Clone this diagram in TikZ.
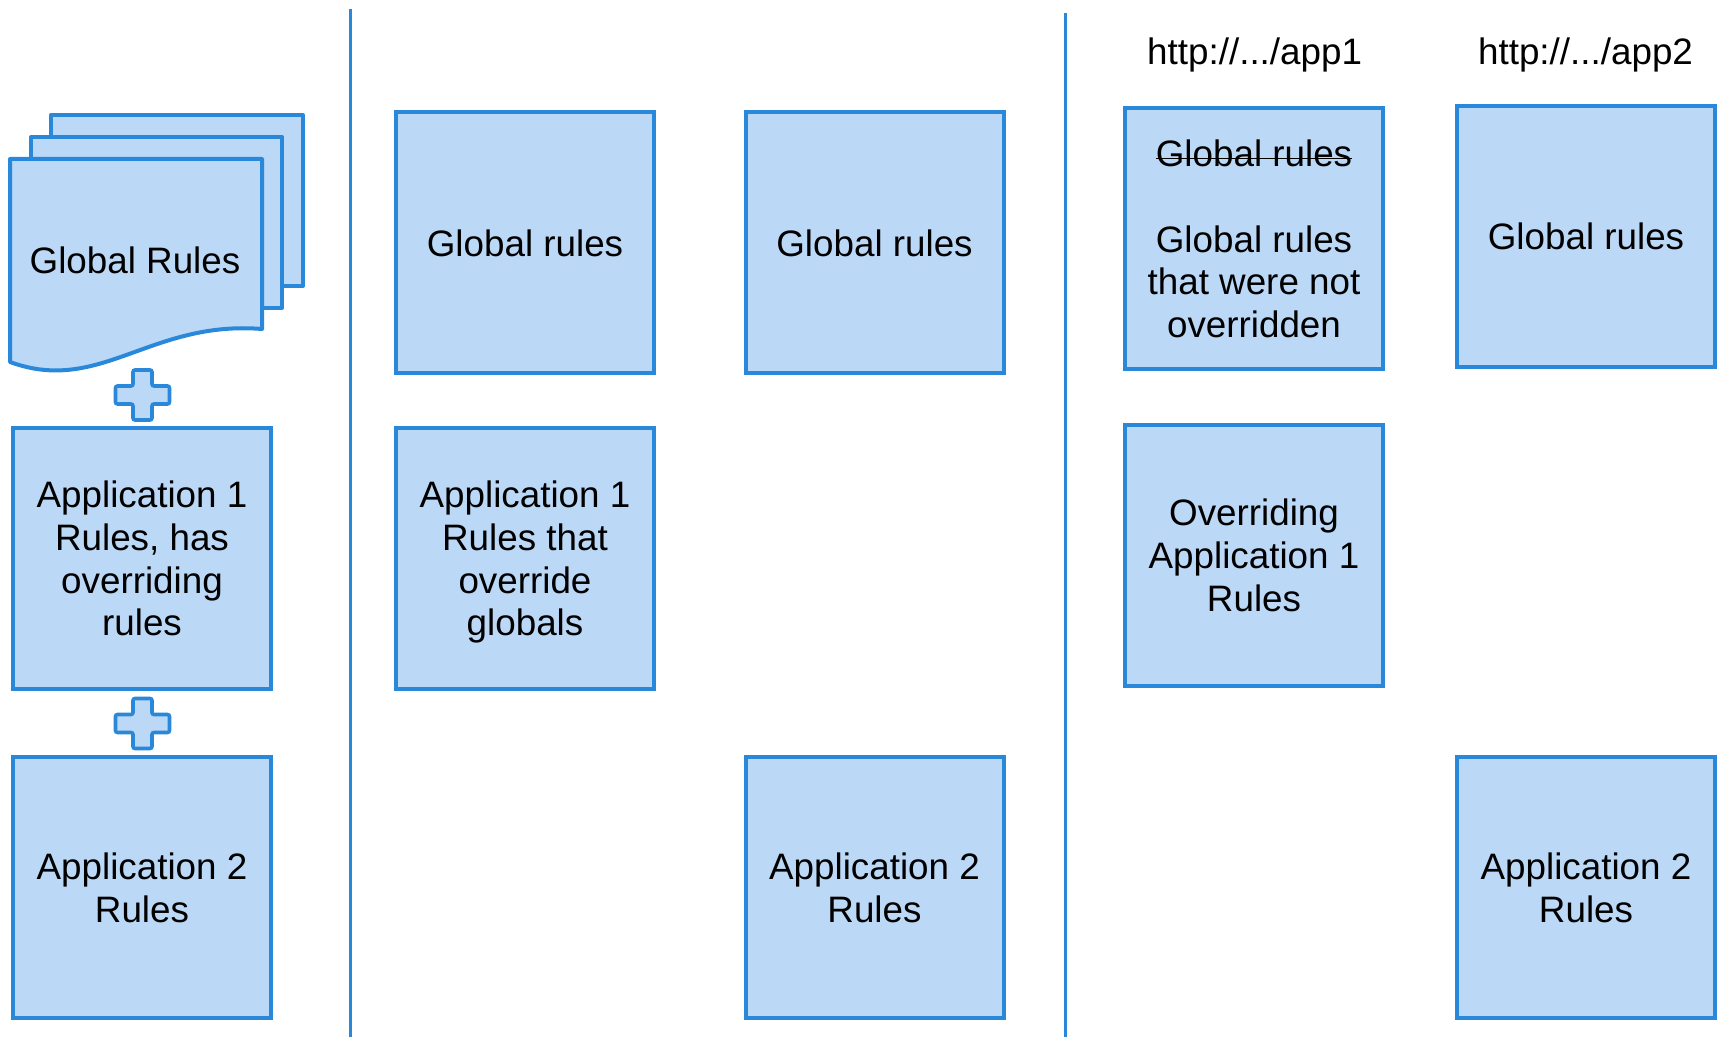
\documentclass[tikz,border=0pt]{standalone}
\usepackage{fontspec}
\setmainfont{Liberation Sans}
\definecolor{bblue}{RGB}{42,136,218}
\definecolor{bfill}{RGB}{187,216,246}
\newcommand\struck[1]{\leavevmode\begingroup\setbox0\hbox{#1}\rlap{\rule[0.2em]{\wd0}{0.9pt}}\box0\endgroup}
\tikzset{
  rulebox/.style={draw=bblue, fill=bfill, line width=2pt, minimum width=129pt, minimum height=130.5pt,
    inner sep=0pt, align=center, font=\fontsize{18.4}{21.35}\selectfont},
  plain/.style={inner sep=0pt, align=center, font=\fontsize{18.4}{21.35}\selectfont},
  page/.style={draw=bblue, fill=bfill, line width=2pt, line join=round},
  plusstyle/.style={draw=bblue, fill=bfill, line width=1.8pt, rounded corners=1pt},
  divider/.style={draw=bblue, line width=1.5pt}
}
\begin{document}
\begin{tikzpicture}[x=0.5pt, y=-0.5pt]
\useasboundingbox (0,0) rectangle (1718,1037);
% dividers
\coordinate (d1t) at (350.6,9);
\coordinate (d1b) at (350.6,1037);
\coordinate (d2t) at (1065,13);
\coordinate (d2b) at (1065,1037);
\draw[divider] (d1t) -- (d1b);
\draw[divider] (d2t) -- (d2b);
% document stack
\draw[page] (51,115) rectangle (303,286);
\draw[page] (31,137) rectangle (282,308);
\draw[page] (10,159) -- (262,159) -- (262,329)
  .. controls (150,320) and (100,395) .. (10,362) -- cycle;
\node[plain] (glob) at (135,260) {Global Rules};
% plus signs
\draw[plusstyle, shift={(142.5,395)}] (-9.5,-25) -- (9.5,-25) -- (9.5,-9) -- (27,-9) -- (27,9) -- (9.5,9)
  -- (9.5,25) -- (-9.5,25) -- (-9.5,9) -- (-27,9) -- (-27,-9) -- (-9.5,-9) -- cycle;
\draw[plusstyle, shift={(142.5,723.5)}] (-9.5,-25) -- (9.5,-25) -- (9.5,-9) -- (27,-9) -- (27,9) -- (9.5,9)
  -- (9.5,25) -- (-9.5,25) -- (-9.5,9) -- (-27,9) -- (-27,-9) -- (-9.5,-9) -- cycle;
% column 1
\node[rulebox] (c1b2) at (142,558.5) {Application 1\\Rules, has\\overriding\\rules};
\node[rulebox] (c1b3) at (142,887.5) {Application 2\\Rules};
% column 2
\node[rulebox] (c2b1) at (525,243) {Global rules};
\node[rulebox] (c2b2) at (525,558.5) {Application 1\\Rules that\\override\\\raisebox{0pt}[\height][0pt]{globals}};
% column 3
\node[rulebox] (c3b1) at (874.5,243) {Global rules};
\node[rulebox] (c3b3) at (874.5,887.5) {Application 2\\Rules};
% column 4
\node[plain] (url1) at (1254.6,54.8) {http://.../app1};
\node[rulebox] (c4b1) at (1254,239) {\struck{Global rules}\\[21.35pt]Global rules\\that were not\\overridden};
\node[rulebox] (c4b2) at (1254,555.5) {Overriding\\Application 1\\Rules};
% column 5
\node[plain] (url2) at (1585.5,54.8) {http://.../app2};
\node[rulebox] (c5b1) at (1586,236.5) {Global rules};
\node[rulebox] (c5b3) at (1586,887.5) {Application 2\\Rules};
\end{tikzpicture}
\end{document}
